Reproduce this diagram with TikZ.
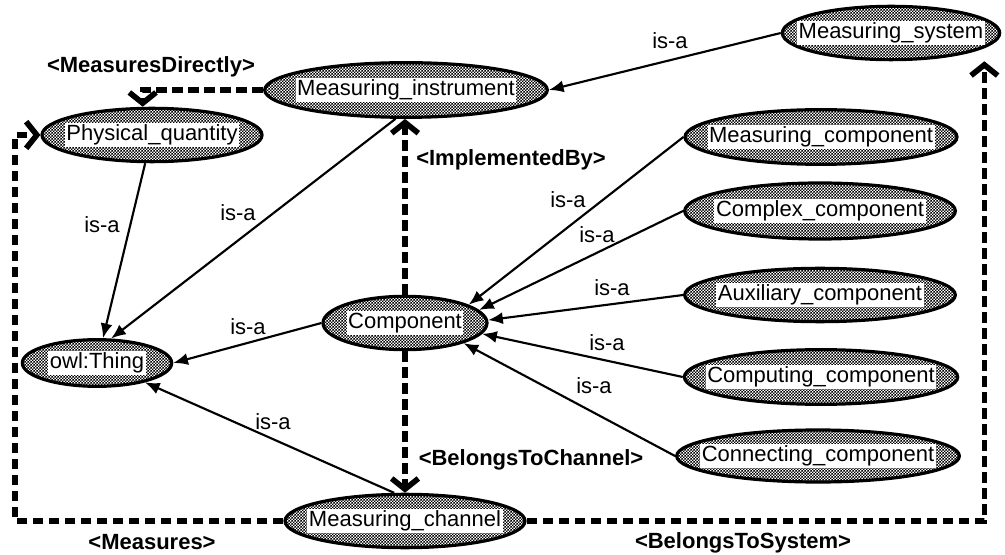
\documentclass[tikz,border=0pt]{standalone}
\usepackage{fontspec}
\setmainfont{Liberation Sans}
\usepackage{tikz}
\usetikzlibrary{arrows.meta,positioning,shapes.geometric,patterns}

\pgfdeclarepatternformonly{finechecker}{\pgfpointorigin}{\pgfqpoint{2.2pt}{2.2pt}}{\pgfqpoint{2.2pt}{2.2pt}}{%
  \pgfpathrectangle{\pgfpointorigin}{\pgfqpoint{1.1pt}{1.1pt}}%
  \pgfpathrectangle{\pgfqpoint{1.1pt}{1.1pt}}{\pgfqpoint{1.1pt}{1.1pt}}%
  \pgfusepath{fill}}

\newcommand{\clsname}[1]{\makebox[0pt]{\colorbox{white}{#1}}}
\setlength{\fboxsep}{1.2pt}

\begin{document}
\begin{tikzpicture}[x=0.75pt, y=-0.75pt,
        cls/.style={draw, ellipse, line width=2.4pt, preaction={fill=white}, pattern=finechecker, inner sep=0pt, font=\fontsize{16.5}{18}\selectfont},
        isa/.style={-{Latex[length=11pt,width=9pt]}, line width=1.6pt},
        rel/.style={-{Straight Barb[length=8pt,width=20pt]}, line width=4.2pt, dash pattern=on 8pt off 4pt},
        txt/.style={font=\fontsize{16.5}{18}\selectfont, inner sep=0pt},
        reltxt/.style={font=\bfseries\fontsize{16.5}{18}\selectfont, inner sep=0pt}]
        \useasboundingbox (0,0) rectangle (1005,555);

        \node (MS) [cls, minimum width=163pt, minimum height=40pt] at (891,33) {\clsname{Measuring\_system}};
        \node (MI) [cls, minimum width=212pt, minimum height=41pt] at (406,90) {\clsname{Measuring\_instrument}};
        \node (PQ) [cls, minimum width=165pt, minimum height=40pt] at (152,135) {\clsname{Physical\_quantity}};
        \node (OT) [cls, minimum width=112pt, minimum height=35pt] at (97,363) {\clsname{owl:Thing}};
        \node (Comp) [cls, minimum width=123pt, minimum height=40pt] at (405,323) {\clsname{Component}};
        \node (MC) [cls, minimum width=180pt, minimum height=40pt] at (405,521) {\clsname{Measuring\_channel}};
        \node (MeC) [cls, minimum width=204pt, minimum height=41pt] at (821,137) {\clsname{Measuring\_component}};
        \node (CxC) [cls, minimum width=203pt, minimum height=42pt] at (820,211) {\clsname{Complex\_component}};
        \node (AxC) [cls, minimum width=203pt, minimum height=40pt] at (820,295) {\clsname{Auxiliary\_component}};
        \node (CpC) [cls, minimum width=205pt, minimum height=41pt] at (821,377) {\clsname{Computing\_component}};
        \node (CnC) [cls, minimum width=212pt, minimum height=39pt] at (818,456) {\clsname{Connecting\_component}};

        % is-a links
        \draw[isa] (MS.west) -- (MI.east);
        \draw[isa] (PQ) -- (OT);
        \draw[isa] (MI.250) -- (OT.60);
        \draw[isa] (Comp.west) -- (OT.east);
        \draw[isa] (MC.111) -- (OT.-22);
        \draw[isa] (MeC.west) -- (Comp.16);
        \draw[isa] (CxC.west) -- (Comp.10);
        \draw[isa] (AxC.west) -- (Comp.2);
        \draw[isa] (CpC.west) -- (Comp.-8);
        \draw[isa] (CnC.west) -- (Comp.-19);

        \node (isa1) [txt] at (670,41) {is-a};
        \node (isa2) [txt] at (102,225) {is-a};
        \node (isa3) [txt] at (238,213) {is-a};
        \node (isa4) [txt] at (248,327) {is-a};
        \node (isa5) [txt] at (273,422) {is-a};
        \node (isa6) [txt] at (568,200) {is-a};
        \node (isa7) [txt] at (597,235) {is-a};
        \node (isa8) [txt] at (612,288) {is-a};
        \node (isa9) [txt] at (607,343) {is-a};
        \node (isa10) [txt] at (594,386) {is-a};

        % object properties
        \draw[rel] (MI.west) -| ([xshift=-7pt]PQ.north);
        \draw[rel] (MC.west) -| ([xshift=-19pt]PQ.west) -- (PQ.west);
        \draw[rel] (MC.east) -| ([xshift=70pt]MS.south);
        \draw[rel] (Comp.north) -- (Comp.north |- MI.south);
        \draw[rel] (Comp.south) -- (Comp.south |- MC.north);

        \node (mdir) [reltxt] at (151,67) {<MeasuresDirectly>};
        \node (meas) [reltxt] at (152,542) {<Measures>};
        \node (impl) [reltxt] at (511,160) {<ImplementedBy>};
        \node (bchan) [reltxt] at (531,460) {<BelongsToChannel>};
        \node (bsys) [reltxt] at (743,543) {<BelongsToSystem>};
    \end{tikzpicture}
\end{document}
